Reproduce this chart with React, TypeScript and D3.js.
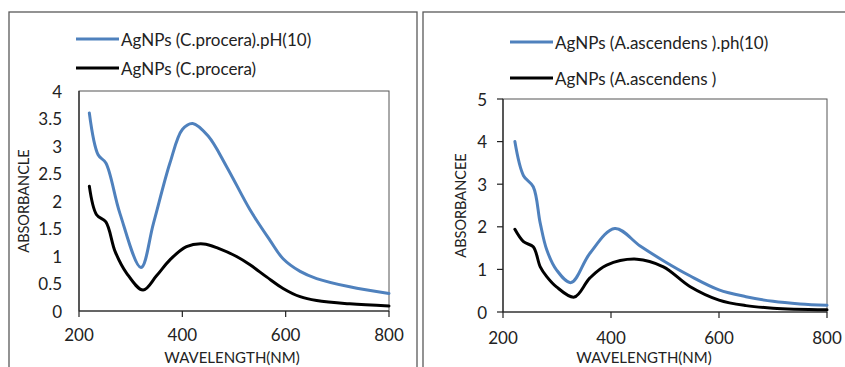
import React from "react";
import * as d3 from "d3";

// ---- Data ----
const xTicks = [200, 400, 600, 800];

// Left panel: C.procera
const leftYTicks = [0, 0.5, 1, 1.5, 2, 2.5, 3, 3.5, 4];
const procPh10Wl = [220, 237, 252, 279, 320, 344, 376, 400, 420, 450, 486, 531, 570, 595, 628, 660, 724, 800];
const procPh10Abs = [3.6, 2.84, 2.69, 1.78, 0.79, 1.59, 2.69, 3.3, 3.41, 3.18, 2.62, 1.84, 1.28, 0.95, 0.72, 0.59, 0.44, 0.32];
const procWl = [220, 234, 252, 270, 292, 324, 350, 376, 408, 441, 470, 505, 531, 563, 595, 628, 660, 724, 800];
const procAbs = [2.27, 1.75, 1.62, 1.08, 0.69, 0.38, 0.64, 0.93, 1.17, 1.22, 1.14, 0.99, 0.84, 0.62, 0.41, 0.26, 0.19, 0.13, 0.09];

// Right panel: A.ascendens
const rightYTicks = [0, 1, 2, 3, 4, 5];
const ascPh10Wl = [222, 238, 256, 269, 281, 299, 326, 361, 407, 454, 500, 546, 600, 650, 700, 750, 800];
const ascPh10Abs = [4.0, 3.2, 2.94, 2.08, 1.46, 0.99, 0.69, 1.38, 1.96, 1.55, 1.18, 0.85, 0.52, 0.36, 0.25, 0.19, 0.16];
const ascWl = [222, 238, 256, 269, 281, 299, 332, 361, 392, 448, 497, 546, 600, 650, 700, 800];
const ascAbs = [1.94, 1.65, 1.53, 1.06, 0.83, 0.59, 0.35, 0.8, 1.1, 1.24, 1.06, 0.6, 0.28, 0.15, 0.09, 0.05];

const BLUE = "#4F81BD";
const FONT = "Lato, 'Open Sans', sans-serif";

type Series = { wl: number[]; abs: number[]; color: string; label: string };

type PanelProps = {
  frame: [number, number, number, number];
  plot: { x0: number; x1: number; y0: number; y1: number };
  yMax: number;
  yTicks: number[];
  yTickMarks: boolean;
  yLabel: string;
  yLabelX: number;
  yTickRight: number;
  xTickY: number;
  xTitle: { x: number; y: number };
  legend: { x0: number; x1: number; ys: number[] };
  series: Series[];
};

function Panel(p: PanelProps) {
  const x = d3.scaleLinear().domain([200, 800]).range([p.plot.x0, p.plot.x1]);
  const y = d3.scaleLinear().domain([0, p.yMax]).range([p.plot.y1, p.plot.y0]);
  const line = d3
    .line<[number, number]>()
    .x((d) => x(d[0]))
    .y((d) => y(d[1]))
    .curve(d3.curveCatmullRom.alpha(0.5));
  const [fx, fy, fw, fh] = p.frame;
  const plotMidY = (p.plot.y0 + p.plot.y1) / 2;
  return (
    <g>
      <rect x={fx} y={fy} width={fw} height={fh} fill="#fff" stroke="#595959" strokeWidth={1.3} />
      <rect
        x={p.plot.x0}
        y={p.plot.y0}
        width={p.plot.x1 - p.plot.x0}
        height={p.plot.y1 - p.plot.y0}
        fill="none"
        stroke="#555"
        strokeWidth={1}
      />
      <line x1={p.plot.x0} x2={p.plot.x1} y1={p.plot.y1} y2={p.plot.y1} stroke="#222" strokeWidth={1.2} />
      <line x1={p.plot.x0} x2={p.plot.x0} y1={p.plot.y0} y2={p.plot.y1} stroke="#222" strokeWidth={1.2} />
      {xTicks.map((t) => (
        <g key={"x" + t}>
          <line x1={x(t)} x2={x(t)} y1={p.plot.y1} y2={p.plot.y1 + 6} stroke="#222" strokeWidth={1.2} />
          <text
            x={x(t)}
            y={p.xTickY}
            textAnchor="middle"
            dominantBaseline="central"
            fontFamily={FONT}
            fontSize={17}
            fill="#222"
          >
            {t}
          </text>
        </g>
      ))}
      {p.yTicks.map((t) => (
        <g key={"y" + t}>
          {p.yTickMarks && (
            <line x1={p.plot.x0 - 6} x2={p.plot.x0} y1={y(t)} y2={y(t)} stroke="#222" strokeWidth={1.2} />
          )}
          <text
            x={p.yTickRight}
            y={y(t)}
            textAnchor="end"
            dominantBaseline="central"
            fontFamily={FONT}
            fontSize={17}
            fill="#222"
          >
            {String(t)}
          </text>
        </g>
      ))}
      <text
        transform={`translate(${p.yLabelX},${plotMidY}) rotate(-90)`}
        textAnchor="middle"
        dominantBaseline="central"
        fontFamily={FONT}
        fontSize={14.5}
        fill="#222"
      >
        {p.yLabel}
      </text>
      <text
        x={p.xTitle.x}
        y={p.xTitle.y}
        textAnchor="middle"
        dominantBaseline="central"
        fontFamily={FONT}
        fontSize={15}
        fill="#222"
      >
        WAVELENGTH(NM)
      </text>
      {p.series.map((s, i) => (
        <path
          key={"s" + i}
          d={line(s.wl.map((w, j) => [w, s.abs[j]] as [number, number])) || ""}
          fill="none"
          stroke={s.color}
          strokeWidth={3}
          strokeLinejoin="round"
          strokeLinecap="round"
        />
      ))}
      {p.series.map((s, i) => (
        <g key={"l" + i}>
          <line
            x1={p.legend.x0}
            x2={p.legend.x1}
            y1={p.legend.ys[i]}
            y2={p.legend.ys[i]}
            stroke={s.color}
            strokeWidth={3.2}
          />
          <text
            x={p.legend.x1 + 2}
            y={p.legend.ys[i]}
            dominantBaseline="central"
            fontFamily={FONT}
            fontSize={17}
            fill="#222"
          >
            {s.label}
          </text>
        </g>
      ))}
    </g>
  );
}

export default function App() {
  return (
    <svg
      width={845}
      height={367}
      style={{ position: "absolute", left: 0, top: 0, display: "block", background: "#fff" }}
    >
      <Panel
        frame={[9, 12, 408, 370]}
        plot={{ x0: 79, x1: 389, y0: 91, y1: 311 }}
        yMax={4}
        yTicks={leftYTicks}
        yTickMarks={false}
        yLabel="ABSORBANCLE"
        yLabelX={23}
        yTickRight={62}
        xTickY={334}
        xTitle={{ x: 232, y: 357 }}
        legend={{ x0: 76, x1: 119, ys: [39, 68] }}
        series={[
          { wl: procPh10Wl, abs: procPh10Abs, color: BLUE, label: "AgNPs (C.procera).pH(10)" },
          { wl: procWl, abs: procAbs, color: "#000", label: "AgNPs (C.procera)" },
        ]}
      />
      <Panel
        frame={[423, 12, 430, 370]}
        plot={{ x0: 503, x1: 827, y0: 99, y1: 312 }}
        yMax={5}
        yTicks={rightYTicks}
        yTickMarks={true}
        yLabel="ABSORBANCEE"
        yLabelX={460}
        yTickRight={487}
        xTickY={337}
        xTitle={{ x: 644, y: 357 }}
        legend={{ x0: 510, x1: 553, ys: [42, 78] }}
        series={[
          { wl: ascPh10Wl, abs: ascPh10Abs, color: BLUE, label: "AgNPs (A.ascendens ).ph(10)" },
          { wl: ascWl, abs: ascAbs, color: "#000", label: "AgNPs (A.ascendens )" },
        ]}
      />
    </svg>
  );
}
